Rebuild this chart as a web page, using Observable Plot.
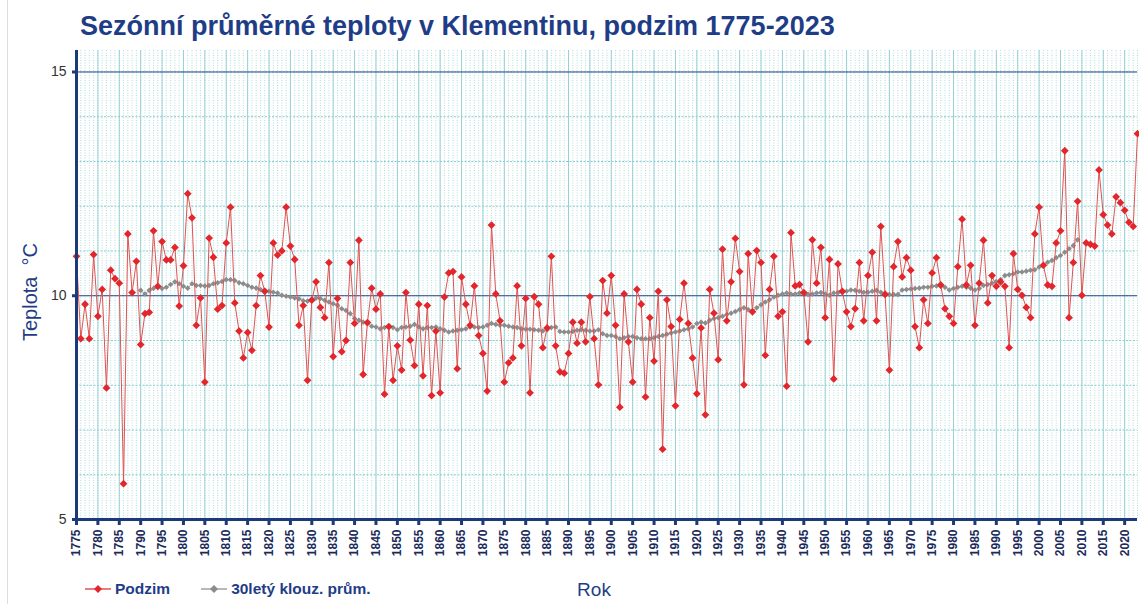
<!DOCTYPE html>
<html>
<head>
<meta charset="utf-8">
<script src="https://cdn.jsdelivr.net/npm/d3@7"></script>
<script src="https://cdn.jsdelivr.net/npm/@observablehq/plot@0.6"></script>
<style>
  html, body { margin: 0; padding: 0; background: #fff; }
  body { width: 1139px; height: 604px; position: relative; overflow: hidden; font-family: "Liberation Sans", Arial, sans-serif; }
  #frame { position: absolute; left: 7px; top: 0; width: 1px; height: 604px; background: #ddd; }
  #title { position: absolute; left: 80px; top: 11px; font-size: 27px; font-weight: bold; color: #1f3d87; white-space: nowrap; }
  #chart { position: absolute; left: 0; top: 48px; }
  #ylabel { position: absolute; left: 30px; top: 292px; transform: translate(-50%, -50%) rotate(-90deg); font-size: 20px; color: #1f3d87; white-space: nowrap; }
  #xlabel { position: absolute; left: 594px; top: 590px; transform: translate(-50%, -50%); font-size: 19px; color: #1f3d87; }
  #legend { position: absolute; left: 84px; top: 580px; display: flex; align-items: center; font-size: 15.5px; font-weight: bold; color: #1f3d87; }
  #legend .item { display: flex; align-items: center; margin-right: 30px; }
  #legend svg { margin-right: 3px; }
  g[aria-label="x-axis tick label"] text { font-weight: bold; }
</style>
</head>
<body>
<div id="frame"></div>
<div id="title">Sezónní průměrné teploty v Klementinu, podzim 1775-2023</div>
<div id="chart"></div>
<div id="ylabel">Teplota &nbsp;°C</div>
<div id="xlabel">Rok</div>
<div id="legend"></div>
<script>
// Podzim (autumn) mean temperature, years 1775..2023
const startYear = 1775;
const podzim = [
  10.88, 9.04, 9.81, 9.04, 10.92, 9.54, 10.14, 7.94, 10.57, 10.38,
  10.28, 5.80, 11.38, 10.07, 10.77, 8.91, 9.60, 9.63, 11.45, 10.21,
  11.21, 10.80, 10.80, 11.08, 9.77, 10.67, 12.28, 11.74, 9.34, 9.95,
  8.07, 11.29, 10.86, 9.70, 9.78, 11.18, 11.98, 9.84, 9.21, 8.61,
  9.18, 8.78, 9.78, 10.45, 10.10, 9.30, 11.18, 10.91, 11.00, 11.98,
  11.11, 10.81, 9.34, 9.78, 8.11, 9.90, 10.31, 9.74, 9.51, 10.74,
  8.64, 9.94, 8.75, 9.00, 10.74, 9.38, 11.24, 8.24, 9.40, 10.17,
  9.70, 10.04, 7.80, 9.31, 8.11, 8.88, 8.34, 10.07, 9.01, 8.44,
  9.81, 8.21, 9.78, 7.77, 9.21, 7.83, 9.97, 10.51, 10.54, 8.37,
  10.42, 9.81, 9.34, 10.22, 9.11, 8.71, 7.87, 11.58, 10.04, 9.44,
  8.07, 8.50, 8.61, 10.22, 8.88, 9.94, 7.83, 9.98, 9.81, 8.84,
  9.28, 10.88, 8.88, 8.30, 8.27, 8.71, 9.41, 8.94, 9.41, 8.97,
  9.98, 9.04, 8.01, 10.34, 9.61, 10.45, 9.34, 7.51, 10.04, 8.97,
  8.07, 10.14, 9.81, 7.74, 9.51, 8.54, 10.10, 6.57, 9.91, 9.31,
  7.54, 9.47, 10.28, 9.38, 8.61, 7.81, 9.28, 7.34, 10.14, 9.61,
  8.57, 11.04, 9.44, 10.31, 11.28, 10.54, 8.01, 10.94, 9.64, 11.01,
  10.74, 8.67, 10.14, 10.88, 9.54, 9.64, 7.98, 11.41, 10.22, 10.25,
  10.07, 8.97, 11.25, 10.28, 11.08, 9.51, 10.81, 8.14, 10.71, 10.10,
  9.64, 9.31, 9.71, 10.74, 9.44, 10.45, 10.97, 9.44, 11.55, 10.03,
  8.34, 10.65, 11.21, 10.42, 10.85, 10.57, 9.31, 8.84, 9.91, 9.38,
  10.51, 10.85, 10.24, 9.71, 9.54, 9.38, 10.65, 11.71, 10.24, 10.68,
  9.34, 10.28, 11.24, 9.84, 10.45, 10.21, 10.31, 10.21, 8.84, 10.94,
  10.14, 10.01, 9.74, 9.51, 11.38, 11.98, 10.68, 10.24, 10.21, 11.18,
  11.45, 13.24, 9.51, 10.74, 12.11, 10.01, 11.18, 11.15, 11.11, 12.81,
  11.81, 11.58, 11.38, 12.21, 12.08, 11.91, 11.64, 11.55, 13.62
];
// 30letý klouzavý průměr (30-year moving average), years 1790..2009
const maStartYear = 1790;
const klouz = [
  10.12, 10.04, 10.12, 10.16, 10.19, 10.16, 10.19, 10.25, 10.31, 10.27,
  10.21, 10.17, 10.27, 10.23, 10.23, 10.22, 10.23, 10.27, 10.29, 10.32,
  10.36, 10.36, 10.34, 10.29, 10.27, 10.23, 10.19, 10.17, 10.14, 10.12,
  10.10, 10.08, 10.06, 10.01, 9.99, 9.97, 9.95, 9.93, 9.89, 9.88,
  9.92, 9.95, 9.94, 9.90, 9.86, 9.82, 9.79, 9.71, 9.67, 9.60,
  9.49, 9.45, 9.41, 9.38, 9.32, 9.30, 9.26, 9.29, 9.30, 9.29,
  9.24, 9.29, 9.30, 9.32, 9.36, 9.30, 9.26, 9.29, 9.29, 9.30,
  9.26, 9.23, 9.19, 9.21, 9.23, 9.24, 9.26, 9.30, 9.30, 9.29,
  9.30, 9.34, 9.38, 9.36, 9.34, 9.34, 9.32, 9.30, 9.29, 9.26,
  9.25, 9.25, 9.24, 9.23, 9.21, 9.24, 9.29, 9.30, 9.20, 9.19,
  9.19, 9.20, 9.23, 9.24, 9.23, 9.21, 9.21, 9.24, 9.15, 9.11,
  9.11, 9.09, 9.04, 9.06, 9.09, 9.09, 9.06, 9.04, 9.04, 9.04,
  9.06, 9.09, 9.11, 9.14, 9.17, 9.19, 9.21, 9.24, 9.26, 9.30,
  9.38, 9.41, 9.39, 9.45, 9.49, 9.51, 9.54, 9.58, 9.61, 9.65,
  9.69, 9.73, 9.69, 9.66, 9.73, 9.80, 9.86, 9.91, 9.97, 10.01,
  10.04, 10.06, 10.04, 10.04, 10.06, 10.04, 10.03, 10.04, 10.06, 10.07,
  10.04, 10.01, 10.06, 10.07, 10.08, 10.10, 10.13, 10.12, 10.10, 10.08,
  10.08, 10.10, 10.12, 10.08, 10.06, 10.03, 10.03, 10.03, 10.13, 10.14,
  10.15, 10.16, 10.17, 10.19, 10.19, 10.21, 10.22, 10.22, 10.19, 10.13,
  10.16, 10.19, 10.21, 10.19, 10.17, 10.13, 10.16, 10.23, 10.25, 10.28,
  10.32, 10.36, 10.45, 10.47, 10.49, 10.53, 10.53, 10.55, 10.57, 10.58,
  10.64, 10.68, 10.75, 10.79, 10.85, 10.90, 10.97, 11.05, 11.12, 11.25
];
const xTicks = [1775, 1780, 1785, 1790, 1795, 1800, 1805, 1810, 1815, 1820, 1825, 1830, 1835, 1840, 1845, 1850, 1855, 1860, 1865, 1870, 1875, 1880, 1885, 1890, 1895, 1900, 1905, 1910, 1915, 1920, 1925, 1930, 1935, 1940, 1945, 1950, 1955, 1960, 1965, 1970, 1975, 1980, 1985, 1990, 1995, 2000, 2005, 2010, 2015, 2020];
const yTicks = [5, 10, 15];
const seriesNames = ["Podzim", "30letý klouz. prům."];

const navy = "#1b3a7a";
const redLine = "#e05252";
const redDot = "#e3262c";
const grayLine = "#a0a0a0";
const grayDot = "#8c8c8c";

const autumn = podzim.map((v, i) => ({year: startYear + i, t: v}));
const avg = klouz.map((v, i) => ({year: maStartYear + i, t: v}));

const chart = Plot.plot({
  width: 1139,
  height: 524,
  marginLeft: 76,
  marginRight: 2,
  marginTop: 2,
  marginBottom: 53,
  style: {background: "transparent", fontFamily: "'Liberation Sans', Arial, sans-serif"},
  x: {domain: [1775, 2023], axis: null},
  y: {domain: [5, 15.48], axis: null},
  marks: [
    Plot.ruleX(d3.range(1775, 2024), {stroke: "#a6dada", strokeWidth: 0.9, strokeDasharray: "1,1.5"}),
    Plot.ruleY(d3.range(6, 16), {stroke: "#8ccacd", strokeWidth: 1, strokeDasharray: "2,1.5"}),
    Plot.ruleX(xTicks, {stroke: "#97d0d4", strokeWidth: 1}),
    Plot.ruleY([10, 15], {stroke: "#2b4b8e", strokeWidth: 1}),
    Plot.line(avg, {x: "year", y: "t", stroke: grayLine, strokeWidth: 1}),
    Plot.dot(avg, {x: "year", y: "t", symbol: "diamond2", r: 2.5, fill: grayDot, stroke: "none"}),
    Plot.line(autumn, {x: "year", y: "t", stroke: redLine, strokeWidth: 1}),
    Plot.dot(autumn, {x: "year", y: "t", symbol: "diamond2", r: 3.5, fill: redDot, stroke: "none"}),
    Plot.ruleY([5], {stroke: navy, strokeWidth: 3}),
    Plot.ruleX([1775], {stroke: navy, strokeWidth: 3}),
    Plot.axisX({ticks: xTicks, tickFormat: d => String(d), tickRotate: -90, tickSize: 6, tickPadding: 4,
      stroke: navy, strokeWidth: 3, fill: "#1a2a5a", fontSize: 12, fontWeight: "bold", label: null}),
    Plot.axisY({ticks: yTicks, tickSize: 4, tickPadding: 6, stroke: navy, strokeWidth: 3,
      fill: "#333", fontSize: 14, label: null})
  ]
});
document.getElementById("chart").appendChild(chart);

// legend
const legend = document.getElementById("legend");
const items = [
  {name: seriesNames[0], line: redLine, dot: redDot},
  {name: seriesNames[1], line: grayLine, dot: grayDot}
];
items.forEach(it => {
  const div = document.createElement("div");
  div.className = "item";
  div.innerHTML = `<svg width="28" height="14"><line x1="1" y1="7" x2="27" y2="7" stroke="${it.line}" stroke-width="1.5"/><path d="M14,3 L18,7 L14,11 L10,7 Z" fill="${it.dot}"/></svg><span>${it.name}</span>`;
  legend.appendChild(div);
});
</script>
</body>
</html>
